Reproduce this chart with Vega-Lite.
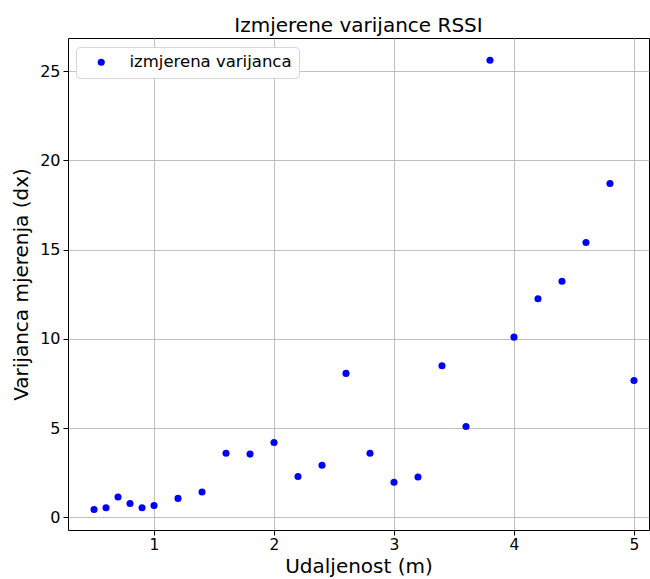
{
  "$schema": "https://vega.github.io/schema/vega-lite/v6.json",
  "width": 581,
  "height": 492,
  "autosize": {"type": "none"},
  "padding": {"left": 68, "top": 38, "right": 1, "bottom": 49},
  "title": {"text": "Izmjerene varijance RSSI", "font": "DejaVu Sans", "fontSize": 20, "fontWeight": "normal", "color": "black", "offset": 2},
  "data": {"values": [
    {"x": 0.5, "y": 0.45, "s": "izmjerena varijanca"},
    {"x": 0.6, "y": 0.55, "s": "izmjerena varijanca"},
    {"x": 0.7, "y": 1.15, "s": "izmjerena varijanca"},
    {"x": 0.8, "y": 0.78, "s": "izmjerena varijanca"},
    {"x": 0.9, "y": 0.55, "s": "izmjerena varijanca"},
    {"x": 1.0, "y": 0.67, "s": "izmjerena varijanca"},
    {"x": 1.2, "y": 1.07, "s": "izmjerena varijanca"},
    {"x": 1.4, "y": 1.43, "s": "izmjerena varijanca"},
    {"x": 1.6, "y": 3.6, "s": "izmjerena varijanca"},
    {"x": 1.8, "y": 3.55, "s": "izmjerena varijanca"},
    {"x": 2.0, "y": 4.2, "s": "izmjerena varijanca"},
    {"x": 2.2, "y": 2.3, "s": "izmjerena varijanca"},
    {"x": 2.4, "y": 2.93, "s": "izmjerena varijanca"},
    {"x": 2.6, "y": 8.07, "s": "izmjerena varijanca"},
    {"x": 2.8, "y": 3.6, "s": "izmjerena varijanca"},
    {"x": 3.0, "y": 1.97, "s": "izmjerena varijanca"},
    {"x": 3.2, "y": 2.27, "s": "izmjerena varijanca"},
    {"x": 3.4, "y": 8.5, "s": "izmjerena varijanca"},
    {"x": 3.6, "y": 5.1, "s": "izmjerena varijanca"},
    {"x": 3.8, "y": 25.6, "s": "izmjerena varijanca"},
    {"x": 4.0, "y": 10.1, "s": "izmjerena varijanca"},
    {"x": 4.2, "y": 12.25, "s": "izmjerena varijanca"},
    {"x": 4.4, "y": 13.23, "s": "izmjerena varijanca"},
    {"x": 4.6, "y": 15.4, "s": "izmjerena varijanca"},
    {"x": 4.8, "y": 18.7, "s": "izmjerena varijanca"},
    {"x": 5.0, "y": 7.67, "s": "izmjerena varijanca"}
  ]},
  "mark": {"type": "point", "filled": true, "shape": "circle", "size": 50, "opacity": 1},
  "encoding": {
    "x": {"field": "x", "type": "quantitative", "title": "Udaljenost (m)",
      "scale": {"domain": [0.283, 5.125], "nice": false, "zero": false},
      "axis": {"values": [1, 2, 3, 4, 5], "format": "d"}},
    "y": {"field": "y", "type": "quantitative", "title": "Varijanca mjerenja (dx)",
      "scale": {"domain": [-0.7, 26.85], "nice": false, "zero": false},
      "axis": {"values": [0, 5, 10, 15, 20, 25]}},
    "color": {"field": "s", "type": "nominal", "title": null,
      "scale": {"domain": ["izmjerena varijanca"], "range": ["#0000ff"]},
      "legend": {"orient": "none", "legendX": 8, "legendY": 9, "symbolType": "circle", "symbolSize": 50,
        "labelFontSize": 16.5, "labelFont": "DejaVu Sans", "labelColor": "black", "labelOffset": 20, "labelLimit": 400,
        "strokeColor": "#d6d6d6", "fillColor": "white", "cornerRadius": 4, "padding": 7,
        "symbolOffset": 10}}
  },
  "config": {
    "font": "DejaVu Sans",
    "view": {"stroke": "black", "strokeWidth": 1},
    "axis": {
      "domain": false,
      "grid": true, "gridColor": "#b0b0b0", "gridWidth": 0.8,
      "tickColor": "black", "tickSize": 5, "tickWidth": 1,
      "labelFont": "DejaVu Sans", "labelFontSize": 16, "labelColor": "black", "labelPadding": 3,
      "titleFont": "DejaVu Sans", "titleFontSize": 20, "titleFontWeight": "normal", "titleColor": "black"
    },
    "axisX": {"titlePadding": 4, "labelPadding": 2, "labelFontSize": 15.5},
    "axisY": {"titlePadding": 8}
  }
}
